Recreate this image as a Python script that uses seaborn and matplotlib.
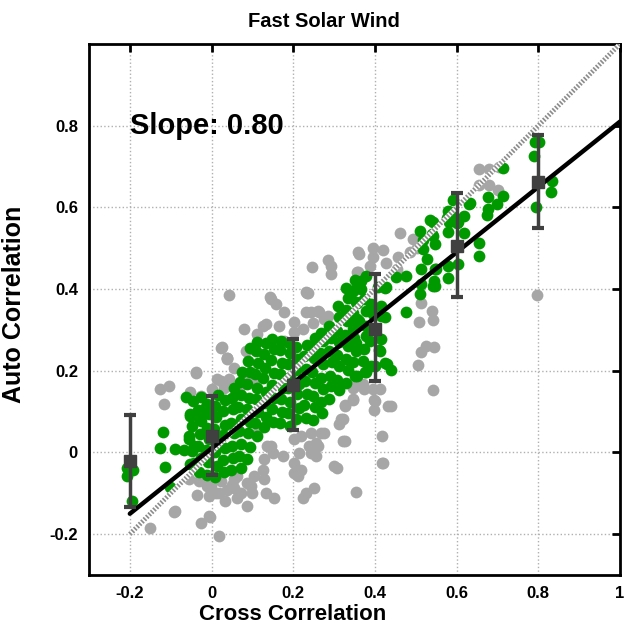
import numpy as np
import pandas as pd
import matplotlib
matplotlib.use("Agg")
import matplotlib.pyplot as plt
import seaborn as sns

# gray points (all intervals)
gray_pts = [
    (0.654, 0.693), (0.680, 0.693), (0.703, 0.699), (0.654, 0.654), (0.680, 0.655), (0.701, 0.643), (0.797, 0.386),
    (0.462, 0.537), (0.494, 0.523), (0.420, 0.496), (0.395, 0.501), (0.358, 0.490), (0.395, 0.478), (0.428, 0.465),
    (0.457, 0.478), (0.485, 0.490), (0.387, 0.456), (0.355, 0.443), (0.502, 0.500), (0.453, 0.449), (0.362, 0.486),
    (0.514, 0.365), (0.540, 0.347), (0.541, 0.325), (0.507, 0.320), (0.514, 0.246), (0.525, 0.261), (0.545, 0.258),
    (0.506, 0.214), (0.541, 0.153), (0.350, 0.163), (0.374, 0.155), (0.395, 0.155), (0.412, 0.155), (0.398, 0.128),
    (0.346, 0.128), (0.440, 0.114), (0.398, 0.103), (0.418, 0.040), (0.418, -0.025), (0.354, -0.097), (0.326, 0.028),
    (0.322, 0.081), (0.371, 0.167), (0.327, 0.116), (0.347, 0.130), (0.399, 0.126), (0.432, 0.114), (0.420, -0.025),
    (0.293, 0.437), (0.231, 0.392), (0.231, 0.343), (0.260, 0.347), (0.276, 0.326), (0.248, 0.318), (0.223, 0.302),
    (0.203, 0.320), (0.178, 0.343), (0.203, 0.294), (0.178, 0.273), (0.246, 0.455), (0.286, 0.471), (0.293, 0.457),
    (0.358, 0.441), (0.233, 0.390), (0.143, 0.380), (0.235, 0.390), (0.244, 0.343), (0.264, 0.343), (0.285, 0.335),
    (0.347, 0.159), (0.326, 0.114), (0.317, 0.081), (0.313, 0.069), (0.276, 0.048), (0.244, 0.048), (0.219, 0.040),
    (0.203, 0.032), (0.260, 0.015), (0.239, 0.015), (0.322, 0.028), (0.256, -0.009), (0.215, -0.001), (0.203, -0.025),
    (0.219, -0.042), (0.203, -0.050), (0.301, -0.034), (0.174, -0.009), (0.268, 0.048), (0.256, 0.024), (0.244, -0.001),
    (0.252, -0.087), (0.223, -0.111), (0.308, -0.038), (0.211, -0.058), (0.231, -0.099),
    (0.043, 0.386), (0.145, 0.375), (0.157, 0.363), (0.166, 0.310), (0.133, 0.314), (0.112, 0.290), (0.079, 0.302),
    (0.127, 0.310), (0.084, 0.249), (0.026, 0.257), (0.039, 0.232), (0.055, 0.208), (-0.039, 0.196), (0.022, 0.175),
    (0.043, 0.179), (0.030, 0.159), (0.002, 0.155), (0.079, 0.175), (0.104, 0.179), (0.067, 0.155), (-0.027, 0.138),
    (0.022, 0.255), (0.037, 0.231), (0.112, 0.048), (0.137, 0.015), (0.150, -0.001), (0.129, -0.017), (0.125, -0.042),
    (0.104, -0.058), (0.088, -0.074), (0.100, -0.099), (0.055, -0.087), (0.022, -0.070), (-0.002, -0.083),
    (0.010, -0.099), (-0.031, -0.070), (-0.015, -0.054), (0.133, -0.099), (0.152, -0.111), (0.129, -0.066),
    (0.145, 0.015), (0.088, -0.132), (0.071, -0.099), (0.096, -0.083), (0.055, -0.066), (0.039, -0.091),
    (-0.125, 0.155), (-0.103, 0.163), (-0.117, 0.118), (-0.038, 0.194), (-0.052, 0.147), (0.039, 0.228),
    (0.014, 0.179), (-0.035, -0.103), (-0.007, -0.107), (-0.011, -0.083), (0.018, -0.099), (-0.089, -0.144),
    (-0.027, -0.173), (-0.007, -0.156), (-0.150, -0.185), (0.018, -0.205), (0.051, -0.079), (0.063, -0.058),
    (0.063, -0.111), (0.034, -0.119), (-0.004, -0.159), (-0.056, -0.066), (-0.091, -0.146),
]

# green points (selected intervals)
green_pts = [
    # right-hand band
    (0.793, 0.760), (0.801, 0.761), (0.790, 0.727), (0.834, 0.664), (0.832, 0.637), (0.795, 0.600),
    (0.713, 0.697), (0.678, 0.625), (0.713, 0.629), (0.700, 0.609), (0.678, 0.596), (0.674, 0.582),
    (0.633, 0.610), (0.592, 0.617), (0.580, 0.592), (0.576, 0.573), (0.600, 0.572), (0.617, 0.578),
    (0.600, 0.561), (0.580, 0.539), (0.618, 0.537), (0.654, 0.513), (0.655, 0.480), (0.604, 0.461),
    (0.580, 0.456), (0.549, 0.449), (0.580, 0.426), (0.545, 0.420), (0.547, 0.408), (0.543, 0.563),
    (0.543, 0.531), (0.584, 0.588), (0.581, 0.564), (0.535, 0.568), (0.539, 0.535), (0.510, 0.543),
    (0.518, 0.519), (0.547, 0.510), (0.518, 0.498), (0.527, 0.474), (0.514, 0.449), (0.547, 0.449),
    (0.543, 0.408), (0.514, 0.412), (0.510, 0.388), (0.477, 0.431), (0.452, 0.429), (0.424, 0.402),
    (0.477, 0.344), (0.424, 0.331), (0.379, 0.433), (0.366, 0.420), (0.358, 0.408), (0.374, 0.375),
    (0.355, 0.367), (0.391, 0.363), (0.379, 0.347), (0.416, 0.359), (0.355, 0.326), (0.379, 0.310),
    (0.379, 0.285), (0.347, 0.302), (0.412, 0.249), (0.371, 0.224), (0.391, 0.212), (0.424, 0.220),
    (0.440, 0.202), (0.378, 0.197), (0.355, 0.187), (0.430, 0.216), (0.409, 0.251), (0.376, 0.196),
    (0.362, 0.322), (0.395, 0.339), (0.416, 0.335), (0.354, 0.269), (0.387, 0.273), (0.374, 0.253),
    (0.366, 0.400), (0.408, 0.405), (0.428, 0.405), (0.344, 0.392), (0.416, 0.277), (0.400, 0.212),
    (0.631, 0.609), (0.604, 0.564),
    # far left
    (-0.120, 0.050), (-0.125, 0.011), (-0.089, 0.009), (-0.068, 0.007), (-0.113, -0.035), (-0.101, -0.085),
    (-0.207, -0.038), (-0.192, -0.042), (-0.206, -0.058), (-0.194, -0.119), (-0.062, 0.137), (-0.052, 0.089),
    (-0.027, 0.137), (-0.019, 0.106), (-0.031, 0.085), (-0.056, 0.040), (-0.044, 0.015), (-0.044, -0.025),
    # main cloud
    (-0.052, -0.028), (-0.047, 0.004), (-0.055, 0.033), (-0.049, 0.066), (-0.053, 0.094), (-0.046, 0.127),
    (-0.031, -0.047), (-0.027, -0.014), (-0.034, 0.017), (-0.029, 0.044), (-0.025, 0.078), (-0.033, 0.104),
    (-0.012, -0.056), (-0.008, -0.023), (-0.013, 0.006), (-0.006, 0.032), (-0.011, 0.061), (-0.007, 0.093),
    (-0.012, 0.119), (0.008, -0.061), (0.013, -0.032), (0.009, 0.002), (0.014, 0.028), (0.007, 0.058),
    (0.012, 0.087), (0.009, 0.114), (0.015, 0.141), (0.031, -0.049), (0.027, -0.018), (0.033, 0.011),
    (0.029, 0.042), (0.034, 0.068), (0.028, 0.101), (0.032, 0.128), (0.048, -0.044), (0.053, -0.013),
    (0.049, 0.017), (0.054, 0.047), (0.047, 0.073), (0.052, 0.107), (0.049, 0.133), (0.055, 0.158),
    (0.071, -0.038), (0.067, -0.008), (0.073, 0.021), (0.068, 0.052), (0.072, 0.082), (0.066, 0.112),
    (0.073, 0.141), (0.069, 0.172), (0.074, 0.198), (0.088, -0.016), (0.093, 0.013), (0.089, 0.047),
    (0.094, 0.074), (0.087, 0.106), (0.092, 0.133), (0.088, 0.167), (0.093, 0.196), (0.089, 0.224),
    (0.094, 0.256), (0.111, 0.041), (0.107, 0.072), (0.113, 0.098), (0.108, 0.131), (0.112, 0.158),
    (0.106, 0.192), (0.113, 0.219), (0.109, 0.248), (0.112, 0.271), (0.128, 0.062), (0.133, 0.088),
    (0.129, 0.121), (0.134, 0.149), (0.127, 0.182), (0.132, 0.208), (0.128, 0.241), (0.133, 0.268),
    (0.151, 0.074), (0.147, 0.107), (0.153, 0.133), (0.148, 0.166), (0.152, 0.194), (0.146, 0.226),
    (0.153, 0.253), (0.149, 0.279), (0.168, 0.071), (0.173, 0.098), (0.169, 0.131), (0.174, 0.158),
    (0.167, 0.191), (0.172, 0.218), (0.168, 0.251), (0.171, 0.272), (0.191, 0.064), (0.187, 0.096),
    (0.193, 0.124), (0.188, 0.157), (0.192, 0.184), (0.186, 0.216), (0.193, 0.243), (0.189, 0.268),
    (0.208, 0.081), (0.213, 0.109), (0.209, 0.142), (0.214, 0.168), (0.207, 0.201), (0.212, 0.228),
    (0.208, 0.259), (0.231, 0.084), (0.227, 0.117), (0.233, 0.143), (0.228, 0.176), (0.232, 0.204),
    (0.226, 0.236), (0.233, 0.263), (0.248, 0.079), (0.253, 0.112), (0.249, 0.138), (0.254, 0.171),
    (0.247, 0.198), (0.252, 0.231), (0.248, 0.258), (0.253, 0.281), (0.271, 0.096), (0.267, 0.123),
    (0.273, 0.156), (0.268, 0.183), (0.272, 0.216), (0.266, 0.243), (0.273, 0.274), (0.269, 0.293),
    (0.288, 0.131), (0.293, 0.162), (0.289, 0.188), (0.294, 0.221), (0.287, 0.248), (0.292, 0.281),
    (0.288, 0.309), (0.311, 0.152), (0.307, 0.178), (0.313, 0.211), (0.308, 0.238), (0.312, 0.271),
    (0.306, 0.298), (0.313, 0.331), (0.309, 0.358), (0.328, 0.171), (0.333, 0.203), (0.329, 0.228),
    (0.334, 0.261), (0.327, 0.288), (0.332, 0.321), (0.328, 0.348), (0.333, 0.379), (0.329, 0.402),
    (0.351, 0.188), (0.347, 0.221), (0.353, 0.248), (0.348, 0.281), (0.352, 0.308), (0.346, 0.341),
    (0.353, 0.368), (0.349, 0.398), (0.352, 0.421),
]

# binned means and spread
bin_x = [-0.2, 0.0, 0.2, 0.4, 0.6, 0.8]
bin_mean = [-0.021, 0.040, 0.164, 0.302, 0.506, 0.663]
bin_lo = [-0.134, -0.054, 0.055, 0.175, 0.380, 0.550]
bin_hi = [0.091, 0.138, 0.277, 0.436, 0.635, 0.776]

# linear fit and 1:1 line
fit_x = [-0.2, 1.0]
fit_y = [-0.150, 0.810]
diag_x = [-0.2, 1.0]
diag_y = [-0.2, 1.0]

x_ticks = [-0.2, 0, 0.2, 0.4, 0.6, 0.8, 1]
x_labels = ["-0.2", "0", "0.2", "0.4", "0.6", "0.8", "1"]
y_ticks = [-0.2, 0, 0.2, 0.4, 0.6, 0.8]
y_labels = ["-0.2", "0", "0.2", "0.4", "0.6", "0.8"]

sns.set_theme(style="white")
plt.rcParams["font.family"] = ["Liberation Sans", "DejaVu Sans"]
plt.rcParams["font.weight"] = "bold"
plt.rcParams["text.color"] = "black"
plt.rcParams["axes.labelcolor"] = "black"

gray = pd.DataFrame(gray_pts, columns=["cross", "auto"])
green = pd.DataFrame(green_pts, columns=["cross", "auto"])

fig = plt.figure(figsize=(6.33, 6.28), dpi=100)
ax = fig.add_axes([89 / 633, 53 / 628, 531 / 633, 531 / 628])

sns.scatterplot(data=gray, x="cross", y="auto", color="#a6a6a6", s=72, linewidth=0, ax=ax, zorder=2)
sns.scatterplot(data=green, x="cross", y="auto", color="#009a00", s=72, linewidth=0, ax=ax, zorder=3)

# 1:1 line, hatched look
ax.plot(diag_x, diag_y, color="white", lw=3.5, zorder=4, solid_capstyle="butt")
ax.plot(diag_x, diag_y, color="#8c8c8c", lw=3.5, ls=(0, (0.35, 0.35)), zorder=4.1, dash_capstyle="butt")

sns.lineplot(x=fit_x, y=fit_y, color="black", lw=3.2, ax=ax, zorder=5)

mean = np.array(bin_mean)
yerr = [mean - np.array(bin_lo), np.array(bin_hi) - mean]
ax.errorbar(bin_x, bin_mean, yerr=yerr, fmt="s", color="#404040", ms=8,
            elinewidth=2.5, capsize=4, capthick=3, zorder=6)

ax.text(-0.2, 0.80, "Slope: 0.80", fontsize=21, fontweight="bold", ha="left", va="center", color="black")

ax.set_xlim(-0.3, 1.0)
ax.set_ylim(-0.3, 1.0)
ax.set_xticks(x_ticks)
ax.set_xticklabels(x_labels)
ax.set_yticks(y_ticks)
ax.set_yticklabels(y_labels)
ax.grid(True, color="#b0b0b0", ls=":", lw=1)
ax.set_axisbelow(True)
ax.tick_params(direction="in", length=6, width=2, top=True, right=True,
               labelsize=12, pad=8, colors="black")
for s in ax.spines.values():
    s.set_linewidth(2)
    s.set_color("black")

ax.set_title("Fast Solar Wind", fontsize=14.5, fontweight="bold", pad=12, x=(324 - 89) / 531, color="black")
ax.set_xlabel("Cross Correlation", fontsize=16, fontweight="bold", va="center")
ax.xaxis.set_label_coords((293 - 89) / 531, (575 - 614) / 531)
ax.set_ylabel("Auto Correlation", fontsize=18, fontweight="bold")
ax.yaxis.set_label_coords(-0.118, (575 - 304) / 531)

fig.savefig("out.png", dpi=100, facecolor="white")
